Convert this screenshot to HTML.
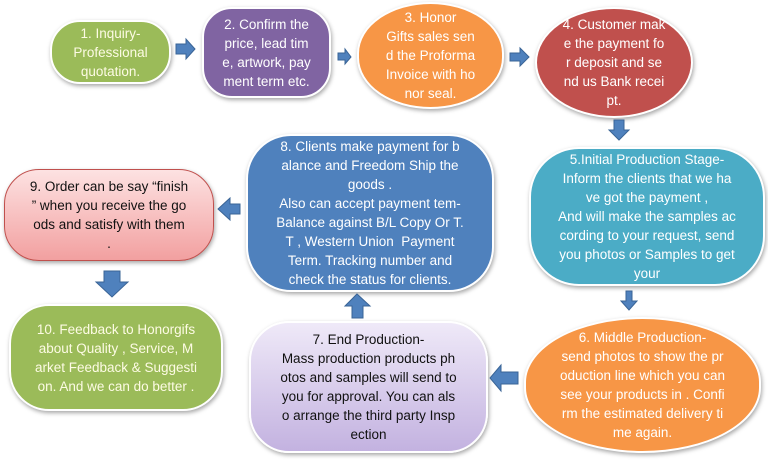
<!DOCTYPE html>
<html><head><meta charset="utf-8"><style>
body{margin:0;width:768px;height:460px;background:#fff;position:relative;overflow:hidden;font-family:"Liberation Sans",sans-serif;}
.b{position:absolute;box-sizing:border-box;border:2.5px solid #fff;display:flex;align-items:center;justify-content:center;text-align:center;color:#fff;font-size:13.5px;line-height:19px;box-shadow:1px 2px 4px rgba(0,0,0,.35);white-space:nowrap;}
svg{position:absolute;left:0;top:0}
</style></head><body>
<div class="b" style="left:50px;top:20px;width:121px;height:64px;border-radius:30px;background:#9bbb59;color:#fdfbe4">1. Inquiry-<br>Professional<br>quotation.</div>
<div class="b" style="left:202px;top:7px;width:129px;height:91px;border-radius:30px;background:#8064a2">2. Confirm the<br>price, lead tim<br>e, artwork, pay<br>ment term etc.</div>
<div class="b" style="left:357px;top:2px;width:147px;height:107px;border-radius:50%/48%;background:#f79646">3. Honor<br>Gifts sales sen<br>d the Proforma<br>Invoice with ho<br>nor seal.</div>
<div class="b" style="left:535px;top:7px;width:158px;height:111px;border-radius:50%;background:#c0504d">4. Customer mak<br>e the payment fo<br>r deposit and se<br>nd us Bank recei<br>pt.</div>
<div class="b" style="left:529px;top:147px;width:236px;height:139px;border-radius:50px;background:#4bacc6">5.Initial Production Stage-<br>Inform the clients that we ha<br>ve got the payment ,<br>And will make the samples ac<br>cording to your request, send<br>you photos or Samples to get<br>your</div>
<div class="b" style="left:524px;top:317px;width:237px;height:136px;border-radius:50%/48%;background:#f79646">6. Middle Production-<br>send photos to show the pr<br>oduction line which you can<br>see your products in . Confi<br>rm the estimated delivery ti<br>me again.</div>
<div class="b" style="left:249px;top:321px;width:239px;height:132px;border-radius:40px;background:linear-gradient(#efe9f8,#c3b2e0);color:#111;border-color:#fff">7. End Production-<br>Mass production products ph<br>otos and samples will send to<br>you for approval. You can als<br>o arrange the third party Insp<br>ection</div>
<div class="b" style="left:246px;top:134px;width:248px;height:158px;border-radius:45px;background:#4f81bd">8. Clients make payment for b<br>alance and Freedom Ship the<br>goods .<br>Also can accept payment tem-<br>Balance against B/L Copy Or T.<br>T , Western Union&nbsp; Payment<br>Term. Tracking number and<br>check the status for clients.</div>
<div class="b" style="left:4px;top:169px;width:210px;height:92px;border-radius:35px;background:linear-gradient(#fde2e2,#f2a0a0);color:#111;border:1.5px solid #c0504d">9. Order can be say “finish<br>” when you receive the go<br>ods and satisfy with them<br>.</div>
<div class="b" style="left:9px;top:304px;width:214px;height:107px;border-radius:40px;background:#9bbb59;color:#fdfbe4">10. Feedback to Honorgifs<br>about Quality , Service, M<br>arket Feedback &amp; Suggesti<br>on. And we can do better .</div>
<svg width="768" height="460">
<g fill="#4f81bd" stroke="#3a6496" stroke-width="1">
<polygon points="176,44 186,44 186,39 195,49 186,59 186,54 176,54"/>
<polygon points="338,53 345,53 345,49 351,57 345,64 345,60 338,60"/>
<polygon points="510,53 520,53 520,48 529,57 520,66 520,61 510,61"/>
<polygon points="614,120 624,120 624,130 629,130 619,140 609,130 614,130"/>
<polygon points="626,291 632,291 632,301 637,301 629,310 621,301 626,301"/>
<polygon points="518,372 501,372 501,365 490,378 501,391 501,384 518,384"/>
<polygon points="352,318 352,306 345,306 357,294 370,306 363,306 363,318"/>
<polygon points="240,204 230,204 230,198 218,209 230,220 230,214 240,214"/>
<polygon points="104,271 120,271 120,282 128,282 112,297 96,282 104,282"/>
</g></svg>
</body></html>
